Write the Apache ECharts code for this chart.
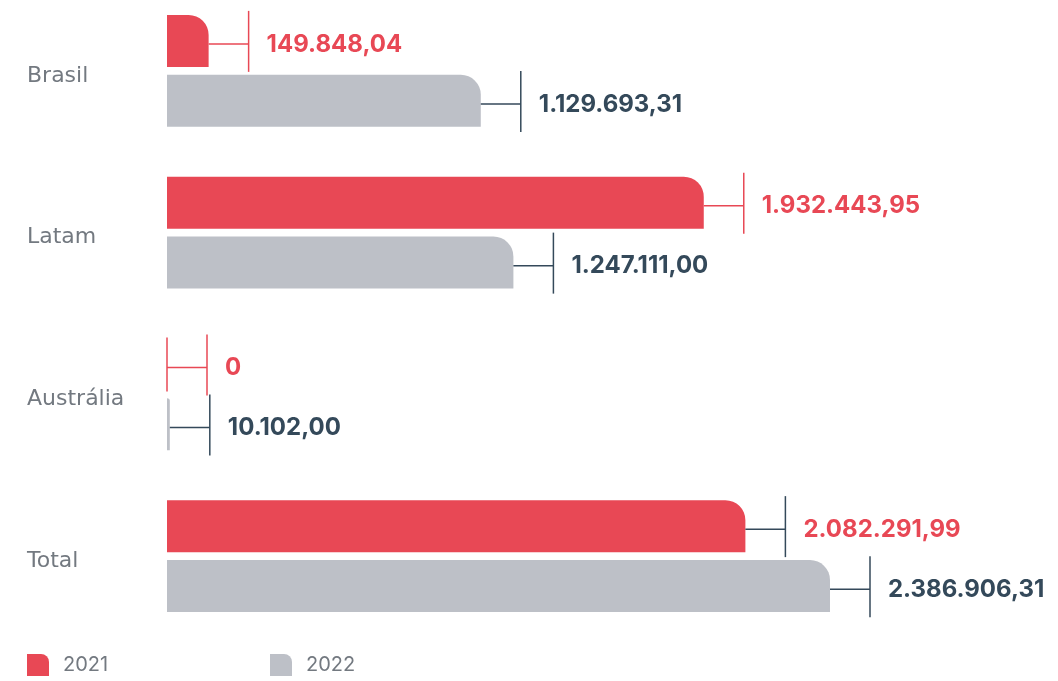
<!DOCTYPE html>
<html>
<head>
<meta charset="utf-8">
<script src="https://cdn.jsdelivr.net/npm/echarts@6/dist/echarts.min.js"></script>
<style>
html,body{margin:0;padding:0;background:#fff;overflow:hidden;width:1058px;height:681px;position:relative;}
#chart{position:absolute;left:0;top:-10px;width:1058px;height:691px;}
</style>
</head>
<body>
<div id="chart"></div>
<script>
const categories = ['Brasil', 'Latam', 'Austrália', 'Total'];
const seriesNames = ['2021', '2022'];
const values2021 = [149848.04, 1932443.95, 0, 2082291.99];
const values2022 = [1129693.31, 1247111.00, 10102.00, 2386906.31];
const labels2021 = ['149.848,04', '1.932.443,95', '0', '2.082.291,99'];
const labels2022 = ['1.129.693,31', '1.247.111,00', '10.102,00', '2.386.906,31'];

const RED = '#E84855';
const GRAY = '#BDC0C7';
const DARK = '#34495A';
const AXIS_TXT = '#737980';
const FONT = 'Inter, "Open Sans", sans-serif';
const AXIS_FONT = '"DejaVu Sans", sans-serif';

const legendIcon = 'path://M0,0 H14 A8,8 0 0 1 22,8 V22 H0 Z';

const labelData = [];
categories.forEach((c, i) => {
  labelData.push([values2021[i], i, 0, labels2021[i]]);
  labelData.push([values2022[i], i, 1, labels2022[i]]);
});

const chart = echarts.init(document.getElementById('chart'), null, {renderer: 'canvas'});

function renderLabel(params, api) {
  const v = api.value(0), ci = api.value(1), s = api.value(2);
  const txt = labelData[params.dataIndex][3];
  const p = api.coord([v, ci]);
  const yc = p[1] + (s === 0 ? -30 : 30);
  const xe = p[0];
  const lineColor = s === 0 ? (categories[ci] === 'Total' ? DARK : RED) : DARK;
  const txtColor = s === 0 ? RED : DARK;
  const children = [
    {type: 'line', shape: {x1: xe, y1: yc + 3, x2: xe + 40, y2: yc + 3}, style: {stroke: lineColor, lineWidth: 1.5}},
    {type: 'line', shape: {x1: xe + 40, y1: yc - 30, x2: xe + 40, y2: yc + 31}, style: {stroke: lineColor, lineWidth: 1.5}},
    {type: 'text', x: xe + 58, y: yc + 3.5, style: {text: txt, fill: txtColor, font: '700 24px ' + FONT, textVerticalAlign: 'middle', textAlign: 'left'}}
  ];
  if (v === 0) {
    children.push({type: 'line', shape: {x1: xe, y1: yc - 27, x2: xe, y2: yc + 27}, style: {stroke: lineColor, lineWidth: 1.5}});
  }
  return {type: 'group', children: children};
}

const option = {
  backgroundColor: '#fff',
  animation: false,
  grid: {left: 167, right: 57.7, top: 0, bottom: 44, containLabel: false},
  legend: [
    {data: [{name: '2021', icon: legendIcon}], left: 22, top: 659, itemWidth: 22, itemHeight: 22,
     textStyle: {fontSize: 20, color: AXIS_TXT, fontFamily: FONT, padding: [4, 0, 0, 9]}},
    {data: [{name: '2022', icon: legendIcon}], left: 265, top: 659, itemWidth: 22, itemHeight: 22,
     textStyle: {fontSize: 20, color: AXIS_TXT, fontFamily: FONT, padding: [4, 0, 0, 9]}}
  ],
  xAxis: {type: 'value', min: 0, max: 3000000, show: false},
  yAxis: {
    type: 'category', data: categories, inverse: true,
    axisLine: {show: false}, axisTick: {show: false}, splitLine: {show: false},
    axisLabel: {
      align: 'left', margin: 140, color: AXIS_TXT,
      formatter: '{a|{value}}',
      rich: {a: {fontSize: 22, color: AXIS_TXT, fontFamily: AXIS_FONT, lineHeight: 32, verticalAlign: 'bottom'}}
    }
  },
  series: [
    {name: seriesNames[0], type: 'bar', data: values2021, barWidth: 52, barGap: '15%',
     itemStyle: {color: RED, borderRadius: [0, 20, 0, 0]}},
    {name: seriesNames[1], type: 'bar', data: values2022, barWidth: 52, barGap: '15%',
     itemStyle: {color: GRAY, borderRadius: [0, 20, 0, 0]}},
    {name: 'labels', type: 'custom', data: labelData, renderItem: renderLabel,
     encode: {x: 0, y: 1}, z: 5, silent: true}
  ]
};
chart.setOption(option);
</script>
</body>
</html>
